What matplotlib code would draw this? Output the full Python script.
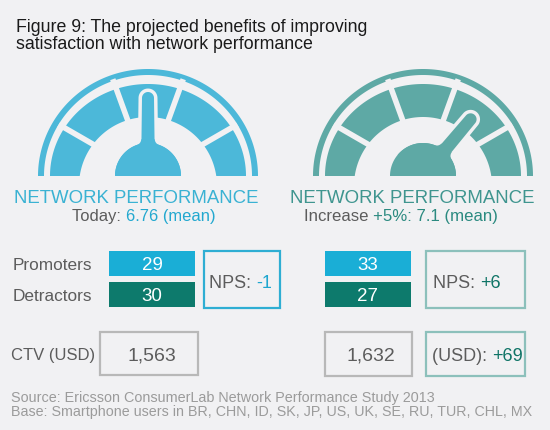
import matplotlib
matplotlib.use("Agg")
import matplotlib.pyplot as plt
import numpy as np
from matplotlib.patches import Polygon, Rectangle

# ---- values ----
row_labels = ['Promoters', 'Detractors']
promoters = [29, 33]
detractors = [30, 27]
nps = ['-1', '+6']
ctv = ['1,563', '1,632']
ctv_gain = '+69'
mean_score = ['6.76', '7.1']
increase = '+5%'

BG = '#f1f1f3'
CYAN = '#4cb8d9'
TEAL = '#5ea9a5'
GREY = '#5c5c5c'
FONT = 'Liberation Sans'

plt.rcParams['font.family'] = FONT


def draw_gauge(ax, cx, cy, col, phi, L, R=33):
    th = np.linspace(0, np.pi, 200)
    # thin outer ring
    outer = np.c_[cx + 110 * np.cos(th), cy - 107 * np.sin(th)]
    inner = np.c_[cx + 104 * np.cos(th), cy - 101 * np.sin(th)][::-1]
    ax.add_patch(Polygon(np.vstack([outer, inner]), fc=col, ec='none', zorder=1))
    # segmented band (inner edge is a circle centred a bit below the base)
    so = np.c_[cx + 98 * np.cos(th), cy - 92 * np.sin(th)]
    t = -10 * np.sin(th) + np.sqrt(100 * np.sin(th) ** 2 - 100 + 69 ** 2)
    si = np.c_[cx + t * np.cos(th), cy - t * np.sin(th)][::-1]
    ax.add_patch(Polygon(np.vstack([so, si]), fc=col, ec='none', zorder=1))
    for a in np.radians([30, 70, 110, 150]):
        ax.plot([cx + 50 * np.cos(a), cx + 103 * np.cos(a)],
                [cy - 50 * np.sin(a), cy - 103 * np.sin(a)],
                color=BG, lw=4, solid_capstyle='butt', zorder=2)

    # needle: tapered pointer with small fillets into a round hub
    uu = np.linspace(0, L - 6, 300)
    ww = 7 - (uu / (L - 6))
    rf = 6.0
    vc = 6.8 + rf
    uc = np.sqrt((R + rf) ** 2 - vc ** 2)
    ut = uc * R / (R + rf)
    circ = np.sqrt(np.clip(R ** 2 - uu ** 2, 0, None))
    fil = vc - np.sqrt(np.clip(rf ** 2 - (uu - uc) ** 2, 0, None))
    fil = np.where((uu >= ut) & (uu <= uc), fil, 0)
    ww = np.maximum(ww, np.where(uu < ut, circ, 0))
    ww = np.maximum(ww, fil)
    a = np.linspace(0, np.pi, 30)
    u = np.r_[uu, L - 6 + 6 * np.sin(a), uu[::-1]]
    v = np.r_[ww, 6 * np.cos(a), -ww[::-1]]
    p = np.radians(phi)
    px = u * np.cos(p) - v * np.sin(p)
    py = u * np.sin(p) + v * np.cos(p)
    bell = np.c_[cx + px, cy - py]
    hub = np.c_[cx + R * np.cos(th), cy - R * np.sin(th)]
    clip = Rectangle((0, 0), 550, cy, transform=ax.transData)
    for pts in (bell, hub):
        back = Polygon(pts, fc=BG, ec=BG, lw=5, zorder=3)
        front = Polygon(pts, fc=col, ec='none', zorder=4)
        for patch in (back, front):
            ax.add_patch(patch)
            patch.set_clip_path(clip)


def two_tone(ax, x, y, first, second, c1, c2, size):
    t1 = ax.text(x, y, first, color=c1, fontsize=size, va='baseline')
    ax.annotate(second, xy=(1, 0), xycoords=t1, color=c2, fontsize=size,
                va='bottom', ha='left')


fig = plt.figure(figsize=(5.5, 4.31), dpi=100)
fig.patch.set_facecolor(BG)
ax = fig.add_axes([0, 0, 1, 1])
ax.set_xlim(0, 550)
ax.set_ylim(431, 0)
ax.axis('off')

# title
ax.text(16, 32, 'Figure 9: The projected benefits of improving', fontsize=12.8,
        color='#1a1a1a', va='baseline')
ax.text(16, 49, 'satisfaction with network performance', fontsize=12.8,
        color='#1a1a1a', va='baseline')

# gauges
draw_gauge(ax, 148, 177, CYAN, 90, 84)
draw_gauge(ax, 423, 177, TEAL, 50, 80)

ax.text(136.5, 203, 'NETWORK PERFORMANCE', fontsize=13.4, color='#3ab2d3',
        ha='center', va='baseline')
ax.text(412.5, 203, 'NETWORK PERFORMANCE', fontsize=13.4, color='#3f958f',
        ha='center', va='baseline')
two_tone(ax, 72, 221, 'Today: ', mean_score[0] + ' (mean)', GREY, '#22a8cf', 11.9)
two_tone(ax, 304, 221, 'Increase ', increase + ': ' + mean_score[1] + ' (mean)',
         GREY, '#2b8a80', 12.1)

# promoters / detractors
for lab, y in zip(row_labels, [270, 301]):
    ax.text(13, y, lab, fontsize=12.4, color=GREY, va='baseline')

bar_x = [109, 325]
for i in range(2):
    ax.add_patch(Rectangle((bar_x[i], 252), 86, 25, fc='#1aaed6', ec='none'))
    ax.add_patch(Rectangle((bar_x[i], 283), 86, 25, fc='#0d7a6c', ec='none'))
    ax.text(bar_x[i] + 43, 270, str(promoters[i]), fontsize=13.5, color='white',
            ha='center', va='baseline')
    ax.text(bar_x[i] + 43, 301, str(detractors[i]), fontsize=13.5, color='white',
            ha='center', va='baseline')

ax.add_patch(Rectangle((204, 252), 76, 57, fc='none', ec='#2eaed3', lw=1.6))
two_tone(ax, 209, 288, 'NPS: ', nps[0], GREY, '#1ea6cf', 13)
ax.add_patch(Rectangle((426, 252), 99, 57, fc='none', ec='#8cc0bb', lw=1.6))
two_tone(ax, 433, 288, 'NPS: ', nps[1], GREY, '#0f7466', 13)

# customer lifetime value
ax.text(11, 360, 'CTV (USD)', fontsize=12, color=GREY, va='baseline')
ax.add_patch(Rectangle((100, 333), 98, 43, fc='none', ec='#b8b8b8', lw=1.6))
ax.text(152, 361, ctv[0], fontsize=14, color=GREY, ha='center', va='baseline')
ax.add_patch(Rectangle((325, 333), 87, 44, fc='none', ec='#b8b8b8', lw=1.6))
ax.text(371, 361, ctv[1], fontsize=14, color=GREY, ha='center', va='baseline')
ax.add_patch(Rectangle((426, 333), 99, 44, fc='none', ec='#8cc0bb', lw=1.6))
two_tone(ax, 432, 361, '(USD): ', ctv_gain, GREY, '#0f7466', 13)

# footnotes
ax.text(11, 402, 'Source: Ericsson ConsumerLab Network Performance Study 2013',
        fontsize=10.4, color='#9b9b9b', va='baseline')
ax.text(11, 416, 'Base: Smartphone users in BR, CHN, ID, SK, JP, US, UK, SE, RU, TUR, CHL, MX',
        fontsize=10.3, color='#9b9b9b', va='baseline')

fig.savefig('out.png', dpi=100, facecolor=BG)
